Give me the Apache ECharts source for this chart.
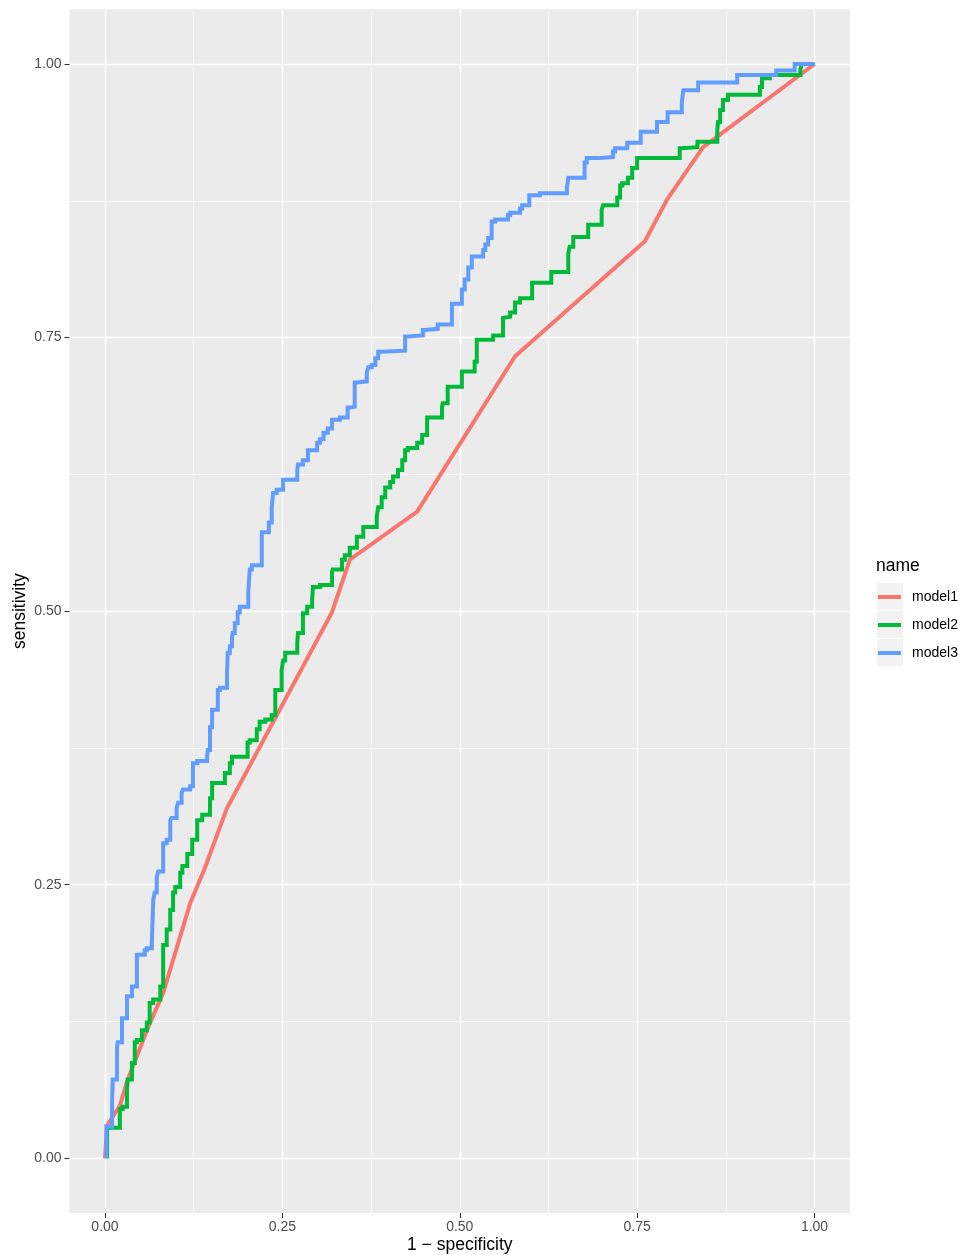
<!DOCTYPE html>
<html>
<head>
<meta charset="utf-8">
<script src="https://cdn.jsdelivr.net/npm/echarts@6/dist/echarts.min.js"></script>
<style>
html, body { margin: 0; padding: 0; background: #fff; overflow: hidden; }
#roc { width: 964px; height: 1255px; }
</style>
</head>
<body>
<div id="roc"></div>
<script>
// ROC curves, [1 - specificity, sensitivity]
var model1 = [
    [0, 0], [0.003, 0.030], [0.021, 0.048], [0.031, 0.070], [0.061, 0.120], [0.082, 0.151],
    [0.120, 0.233], [0.140, 0.264], [0.172, 0.320], [0.320, 0.499], [0.345, 0.547],
    [0.440, 0.591], [0.578, 0.733], [0.761, 0.838], [0.792, 0.876], [0.843, 0.924], [1, 1]
];

var model2 = [
    [0.003, 0], [0.003, 0.028], [0.021, 0.028], [0.021, 0.037], [0.025, 0.045], [0.031, 0.047],
    [0.032, 0.063], [0.038, 0.072], [0.042, 0.087], [0.045, 0.106], [0.052, 0.108], [0.059, 0.117],
    [0.063, 0.124], [0.068, 0.142], [0.078, 0.145], [0.082, 0.157], [0.082, 0.190], [0.087, 0.195],
    [0.092, 0.209], [0.096, 0.227], [0.099, 0.243], [0.106, 0.248], [0.109, 0.261], [0.116, 0.267],
    [0.123, 0.278], [0.130, 0.291], [0.137, 0.309], [0.138, 0.314], [0.148, 0.314], [0.151, 0.329],
    [0.155, 0.343], [0.169, 0.343], [0.172, 0.352], [0.176, 0.352], [0.179, 0.361], [0.183, 0.367],
    [0.201, 0.367], [0.204, 0.380], [0.214, 0.382], [0.218, 0.392], [0.226, 0.399], [0.235, 0.401],
    [0.240, 0.405], [0.242, 0.428], [0.249, 0.428], [0.251, 0.446], [0.254, 0.455], [0.271, 0.462],
    [0.272, 0.471], [0.279, 0.480], [0.285, 0.498], [0.292, 0.504], [0.293, 0.510], [0.303, 0.522],
    [0.320, 0.524], [0.321, 0.536], [0.334, 0.538], [0.338, 0.547], [0.345, 0.551], [0.355, 0.558],
    [0.364, 0.568], [0.371, 0.577], [0.383, 0.577], [0.385, 0.586], [0.390, 0.595], [0.395, 0.604],
    [0.402, 0.613], [0.406, 0.618], [0.413, 0.623], [0.419, 0.629], [0.423, 0.638], [0.427, 0.647],
    [0.440, 0.649], [0.447, 0.654], [0.454, 0.661], [0.461, 0.677], [0.475, 0.677], [0.476, 0.686],
    [0.483, 0.690], [0.489, 0.705], [0.503, 0.705], [0.505, 0.719], [0.521, 0.719], [0.524, 0.728],
    [0.531, 0.748], [0.547, 0.748], [0.550, 0.752], [0.561, 0.752], [0.561, 0.768], [0.571, 0.769],
    [0.578, 0.773], [0.585, 0.782], [0.592, 0.786], [0.602, 0.786], [0.606, 0.800], [0.629, 0.800],
    [0.634, 0.810], [0.653, 0.810], [0.655, 0.827], [0.660, 0.833], [0.667, 0.842], [0.681, 0.842],
    [0.686, 0.853], [0.700, 0.853], [0.702, 0.867], [0.708, 0.871], [0.722, 0.871], [0.726, 0.878],
    [0.729, 0.889], [0.737, 0.891], [0.743, 0.896], [0.750, 0.905], [0.757, 0.914], [0.810, 0.914],
    [0.813, 0.923], [0.835, 0.924], [0.839, 0.929], [0.863, 0.929], [0.864, 0.940], [0.867, 0.947],
    [0.871, 0.958], [0.878, 0.967], [0.888, 0.972], [0.923, 0.972], [0.926, 0.979], [0.930, 0.987],
    [0.937, 0.987], [0.941, 0.990], [0.980, 0.990], [0.982, 0.995], [1, 1]
];

var model3 = [
    [0.002, 0], [0.002, 0.029], [0.010, 0.029], [0.010, 0.047], [0.011, 0.051], [0.017, 0.072],
    [0.018, 0.102], [0.024, 0.106], [0.024, 0.125], [0.031, 0.128], [0.031, 0.145], [0.038, 0.148],
    [0.039, 0.157], [0.045, 0.157], [0.045, 0.183], [0.056, 0.186], [0.059, 0.190], [0.066, 0.192],
    [0.068, 0.195], [0.070, 0.236], [0.073, 0.243], [0.075, 0.257], [0.082, 0.262], [0.087, 0.288],
    [0.092, 0.291], [0.094, 0.309], [0.101, 0.311], [0.103, 0.320], [0.108, 0.325], [0.110, 0.334],
    [0.120, 0.337], [0.124, 0.340], [0.130, 0.361], [0.144, 0.363], [0.145, 0.367], [0.148, 0.373],
    [0.151, 0.394], [0.152, 0.410], [0.159, 0.410], [0.162, 0.428], [0.172, 0.430], [0.173, 0.444],
    [0.176, 0.462], [0.179, 0.468], [0.180, 0.476], [0.183, 0.480], [0.187, 0.489], [0.190, 0.499],
    [0.193, 0.504], [0.202, 0.504], [0.204, 0.518], [0.207, 0.538], [0.221, 0.542], [0.223, 0.572],
    [0.231, 0.572], [0.235, 0.581], [0.237, 0.595], [0.242, 0.608], [0.251, 0.611], [0.254, 0.620],
    [0.271, 0.620], [0.272, 0.629], [0.279, 0.634], [0.286, 0.638], [0.289, 0.647], [0.299, 0.647],
    [0.303, 0.654], [0.308, 0.657], [0.314, 0.663], [0.320, 0.667], [0.331, 0.675], [0.342, 0.677],
    [0.345, 0.686], [0.352, 0.687], [0.355, 0.709], [0.369, 0.710], [0.371, 0.718], [0.376, 0.723],
    [0.381, 0.725], [0.385, 0.731], [0.390, 0.737], [0.423, 0.738], [0.426, 0.751], [0.448, 0.752],
    [0.451, 0.757], [0.469, 0.758], [0.472, 0.762], [0.489, 0.762], [0.489, 0.770], [0.493, 0.781],
    [0.503, 0.781], [0.507, 0.794], [0.512, 0.803], [0.517, 0.814], [0.521, 0.824], [0.533, 0.824],
    [0.536, 0.830], [0.540, 0.835], [0.545, 0.841], [0.550, 0.856], [0.568, 0.858], [0.571, 0.862],
    [0.585, 0.864], [0.588, 0.868], [0.598, 0.871], [0.613, 0.880], [0.651, 0.882], [0.653, 0.887],
    [0.658, 0.896], [0.676, 0.896], [0.679, 0.910], [0.695, 0.914], [0.716, 0.915], [0.719, 0.920],
    [0.736, 0.923], [0.738, 0.928], [0.755, 0.928], [0.757, 0.938], [0.778, 0.938], [0.779, 0.947],
    [0.793, 0.947], [0.796, 0.956], [0.813, 0.956], [0.815, 0.965], [0.820, 0.976], [0.836, 0.976],
    [0.839, 0.983], [0.891, 0.983], [0.892, 0.990], [0.946, 0.990], [0.948, 0.994], [0.972, 0.994],
    [0.975, 1], [1, 1]
];

var seriesNames = ['model1', 'model2', 'model3'];
var seriesColors = ['#F8766D', '#00BA38', '#619CFF'];
var seriesSteps = [false, 'start', 'start'];
var majorTicks = [0, 0.25, 0.5, 0.75, 1];
var minorTicks = [0.125, 0.375, 0.625, 0.875];

var fontName = '"Liberation Sans", Arial, Helvetica, sans-serif';

function mainAxis(pos, title) {
    return {
        type: 'value',
        position: pos,
        min: -0.05,
        max: 1.05,
        name: title,
        nameLocation: 'middle',
        nameMoveOverlap: false,
        nameGap: pos == 'bottom' ? 23 : 40,
        nameTextStyle: { color: '#000', fontSize: 17.5, fontFamily: fontName },
        axisLine: { show: false, onZero: false },
        axisTick: {
            show: true, length: 5, customValues: majorTicks,
            lineStyle: { color: '#333333', width: 1.1 }
        },
        axisLabel: {
            customValues: majorTicks,
            margin: pos == 'bottom' ? 7 : 8,
            color: '#4D4D4D', fontSize: 14, fontFamily: fontName,
            formatter: function (v) { return v.toFixed(2); }
        },
        splitLine: { show: true, lineStyle: { color: '#FFFFFF', width: 1.4 } },
        z: 1
    };
}

function minorAxis(pos) {
    return {
        type: 'value',
        position: pos,
        min: -0.05,
        max: 1.05,
        axisLine: { show: false, onZero: false },
        axisTick: { show: false, customValues: minorTicks },
        axisLabel: { show: false, customValues: minorTicks },
        splitLine: { show: true, lineStyle: { color: '#FFFFFF', width: 0.7 } },
        z: 0
    };
}

var lineSeries = [model1, model2, model3].map(function (pts, i) {
    return {
        name: seriesNames[i],
        type: 'line',
        data: pts,
        xAxisIndex: 0,
        yAxisIndex: 0,
        step: seriesSteps[i],
        showSymbol: false,
        symbol: 'none',
        clip: true,
        color: seriesColors[i],
        lineStyle: { width: 4, color: seriesColors[i], cap: 'butt', join: 'miter' },
        animation: false,
        z: 3 + i
    };
});

var rocChart = echarts.init(document.getElementById('roc'), null, { renderer: 'canvas' });
rocChart.setOption({
    animation: false,
    backgroundColor: '#FFFFFF',
    textStyle: { fontFamily: fontName },
    grid: {
        left: 69.5,
        right: 114,
        top: 9.3,
        bottom: 42,
        containLabel: false,
        outerBoundsMode: 'none',
        show: true,
        backgroundColor: '#EBEBEB',
        borderWidth: 0
    },
    xAxis: [mainAxis('bottom', '1 \u2212 specificity'), minorAxis('bottom')],
    yAxis: [mainAxis('left', 'sensitivity'), minorAxis('left')],
    title: {
        text: 'name',
        left: 876,
        top: 557,
        padding: 0,
        textStyle: { color: '#000', fontSize: 17.5, fontWeight: 'normal', fontFamily: fontName }
    },
    legend: {
        orient: 'vertical',
        left: 878,
        top: 588.5,
        padding: 0,
        itemGap: 11,
        itemWidth: 23,
        itemHeight: 4,
        icon: 'rect',
        data: seriesNames,
        selectedMode: false,
        textStyle: {
            color: '#000', fontSize: 14, lineHeight: 17, fontFamily: fontName,
            padding: [0, 0, 0, 6]
        }
    },
    graphic: [
        { type: 'rect', left: 877, top: 583, z: -1, shape: { width: 26, height: 27 }, style: { fill: '#F2F2F2' } },
        { type: 'rect', left: 877, top: 611, z: -1, shape: { width: 26, height: 27 }, style: { fill: '#F2F2F2' } },
        { type: 'rect', left: 877, top: 639, z: -1, shape: { width: 26, height: 27 }, style: { fill: '#F2F2F2' } }
    ],
    series: lineSeries
});

window.addEventListener('resize', function () {
    rocChart.resize();
});
</script>
</body>
</html>
